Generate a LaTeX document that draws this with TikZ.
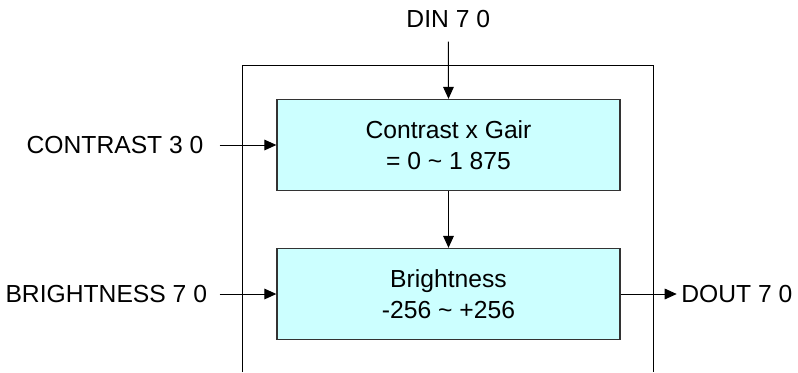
\documentclass[tikz,border=0pt]{standalone}
\usepackage{fontspec}
\setmainfont{Liberation Sans}
\usetikzlibrary{arrows.meta}
\definecolor{boxfill}{HTML}{CCFFFF}
\definecolor{boxline}{HTML}{333333}
\begin{document}
\begin{tikzpicture}[x=0.75pt,y=-0.75pt,
  every node/.style={font=\fontsize{18.5}{23.25}\selectfont},
  blk/.style={draw=boxline,line width=1pt,fill=boxfill,minimum width=257.25pt,minimum height=68.25pt,inner sep=0pt,align=center},
  lbl/.style={inner ysep=0pt},
  arr/.style={line width=0.75pt,-{Triangle[length=9pt,width=8pt]}}]
\useasboundingbox (0,0) rectangle (798,372);
% outer frame, open at the bottom
\draw[line width=0.75pt] (242.7,372) -- (242.7,65) -- (653.3,65) -- (653.3,372);
% blocks
\node[blk] (b1) at (448.5,145) {Contrast x Gair\\= 0 \textasciitilde{} 1 875};
\node[blk] (b2) at (448.5,294) {Brightness\\-256 \textasciitilde{} +256};
% labels
\node[lbl,anchor=south,inner xsep=0pt,inner ysep=10pt] (din) at (448.3,41.7) {DIN 7 0};
\node[lbl,anchor=east,inner xsep=12pt] (con) at (219.7,145) {CONTRAST 3 0};
\node[lbl,anchor=east,inner xsep=9.3pt] (bri) at (219.7,294) {BRIGHTNESS 7 0};
\node[lbl,anchor=west,inner xsep=3.3pt] (dout) at (676.7,294) {DOUT 7 0};
% connectors
\draw[arr] (din.south) -- (b1.north);
\draw[arr] (con.east) -- (b1.west);
\draw[arr] (b1.south) -- (b2.north);
\draw[arr] (bri.east) -- (b2.west);
\draw[arr] (b2.east) -- (dout.west);
\end{tikzpicture}
\end{document}
